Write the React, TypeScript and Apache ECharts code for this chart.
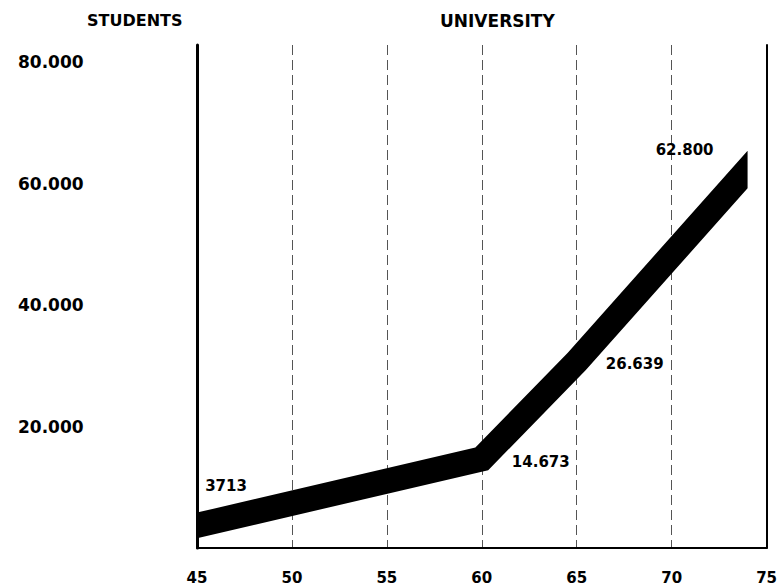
import React, { useEffect, useRef } from "react";
import * as echarts from "echarts";

// Years (19xx) and enrolment as drawn in the picture; printed labels as shown
const years = [45, 60, 65, 74];
const plottedStudents = [3713, 14673, 30700, 62300];
const pointLabels = ["3713", "14.673", "26.639", "62.800"];
const labelOffsets = [
  [29, -39],
  [59, 3],
  [58, 2],
  [-63, -20],
];
const xTicks = [45, 50, 55, 60, 65, 70, 75];
const yTickLabels: Record<number, string> = {
  0: "",
  20000: "20.000",
  40000: "40.000",
  60000: "60.000",
  80000: "80.000",
};

const FONT = "'DejaVu Sans', sans-serif";

export default function App() {
  const ref = useRef<HTMLDivElement>(null);
  useEffect(() => {
    if (!ref.current) return;
    const chart = echarts.init(ref.current, undefined, { renderer: "svg" });
    const halfW = 12.5;
    const option: any = {
      animation: false,
      backgroundColor: "#fff",
      textStyle: { fontFamily: FONT },
      graphic: [
        {
          type: "text",
          left: 87,
          top: 12,
          style: { text: "STUDENTS", font: `bold 16px ${FONT}`, fill: "#000" },
        },
        {
          type: "text",
          left: 440,
          top: 12,
          style: { text: "UNIVERSITY", font: `bold 17px ${FONT}`, fill: "#000" },
        },
      ],
      grid: { left: 197, right: 12, top: 45, bottom: 39, containLabel: false },
      xAxis: {
        type: "value",
        min: xTicks[0],
        max: xTicks[xTicks.length - 1],
        interval: 5,
        axisLine: { show: true, onZero: false, lineStyle: { color: "#000", width: 2 } },
        axisTick: { show: false },
        axisLabel: {
          margin: 22,
          fontSize: 15,
          fontWeight: "bold",
          color: "#000",
          fontFamily: FONT,
        },
        splitLine: {
          show: true,
          lineStyle: { color: "#555", width: 1, type: [10, 5] },
        },
      },
      yAxis: [
        {
          type: "value",
          min: 0,
          max: 82800,
          interval: 20000,
          axisLine: { show: true, lineStyle: { color: "#000", width: 3 } },
          axisTick: { show: false },
          splitLine: { show: false },
          axisLabel: {
            showMaxLabel: false,
            align: "left",
            margin: 179,
            fontSize: 17,
            fontWeight: "bold",
            color: "#000",
            fontFamily: FONT,
            formatter: (v: number) => yTickLabels[v] ?? "",
          },
        },
        {
          type: "value",
          position: "right",
          min: 0,
          max: 82800,
          interval: 20000,
          axisLine: { show: true, lineStyle: { color: "#000", width: 2 } },
          axisTick: { show: false },
          axisLabel: { show: false },
          splitLine: { show: false },
        },
      ],
      series: [
        {
          type: "custom",
          data: years.map((x, i) => [x, plottedStudents[i]]),
          renderItem: (params: any, api: any) => {
            if (params.dataIndex !== 0) return { type: "group", children: [] };
            const pts = years.map((x, i) => api.coord([x, plottedStudents[i]]));
            const n = pts.length;
            const normals: number[][] = [];
            const lens: number[] = [];
            const dxs: number[] = [];
            for (let i = 0; i < n - 1; i++) {
              const dx = pts[i + 1][0] - pts[i][0];
              const dy = pts[i + 1][1] - pts[i][1];
              const len = Math.sqrt(dx * dx + dy * dy);
              normals.push([dy / len, -dx / len]);
              lens.push(len);
              dxs.push(dx);
            }
            const top: number[][] = [];
            const bot: number[][] = [];
            for (let i = 0; i < n; i++) {
              let off: number[];
              if (i === 0) {
                off = [0, -(halfW * lens[0]) / dxs[0]];
              } else if (i === n - 1) {
                off = [0, -(halfW * lens[n - 2]) / dxs[n - 2]];
              } else {
                const a = normals[i - 1];
                const b = normals[i];
                const dot = a[0] * b[0] + a[1] * b[1];
                const k = halfW / (1 + dot);
                off = [(a[0] + b[0]) * k, (a[1] + b[1]) * k];
              }
              top.push([pts[i][0] + off[0], pts[i][1] + off[1]]);
              bot.push([pts[i][0] - off[0], pts[i][1] - off[1]]);
            }
            const poly = top.concat(bot.reverse());
            return {
              type: "polygon",
              shape: { points: poly },
              style: { fill: "#000" },
            };
          },
          z: 5,
        },
        {
          type: "scatter",
          symbolSize: 0,
          itemStyle: { opacity: 1 },
          data: years.map((x, i) => ({
            value: [x, plottedStudents[i]],
            label: {
              show: true,
              position: "inside",
              offset: labelOffsets[i],
              formatter: pointLabels[i],
            },
          })),
          label: {
            show: true,
            fontSize: 15,
            fontWeight: "bold",
            color: "#000",
            opacity: 1,
            fontFamily: FONT,
          },
          z: 10,
        },
      ],
    };
    chart.setOption(option);
    return () => chart.dispose();
  }, []);
  return (
    <div
      ref={ref}
      style={{ position: "fixed", left: 0, top: 0, width: 780, height: 587 }}
    />
  );
}
